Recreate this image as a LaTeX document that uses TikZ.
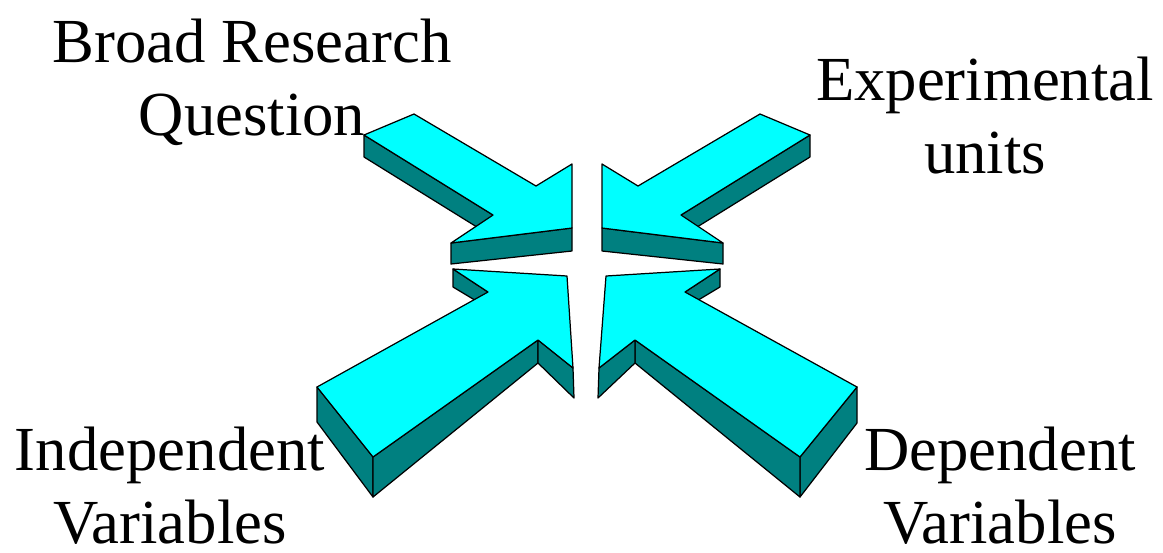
\documentclass[tikz,border=0pt]{standalone}
\usepackage{fontspec}
\setmainfont{Liberation Serif}
\usetikzlibrary{positioning}

\definecolor{arrowtop}{RGB}{0,255,255}
\definecolor{arrowside}{RGB}{0,128,128}

\begin{document}
\begin{tikzpicture}[
  x=0.02cm, y=-0.02cm,
  face/.style={draw, fill=arrowtop, line width=0.7pt, line join=round},
  side/.style={draw, fill=arrowside, line width=0.7pt, line join=round},
  lbl/.style={font=\fontsize{35.7pt}{41.5pt}\selectfont, align=center, anchor=base, inner sep=0pt},
]
\useasboundingbox (0,0) rectangle (1163,552);

% top left arrow
\path (364,135) coordinate (a1) (414,114) coordinate (a2) (536,186) coordinate (a3)
      (572,164) coordinate (a4) (572,228) coordinate (a5) (451,243) coordinate (a6)
      (493,215) coordinate (a7);
\path (364,157) coordinate (a1b) (572,251) coordinate (a5b) (451,264) coordinate (a6b)
      (493,237) coordinate (a7b);
\draw[side] (a1) -- (a7) -- (a7b) -- (a1b) -- cycle;
\draw[side] (a6) -- (a5) -- (a5b) -- (a6b) -- cycle;
\draw[face] (a1) -- (a2) -- (a3) -- (a4) -- (a5) -- (a6) -- (a7) -- cycle;

% top right arrow
\path (810,135) coordinate (b1) (760,114) coordinate (b2) (638,186) coordinate (b3)
      (602,164) coordinate (b4) (602,228) coordinate (b5) (723,243) coordinate (b6)
      (681,215) coordinate (b7);
\path (810,157) coordinate (b1b) (602,251) coordinate (b5b) (723,264) coordinate (b6b)
      (681,237) coordinate (b7b);
\draw[side] (b1) -- (b7) -- (b7b) -- (b1b) -- cycle;
\draw[side] (b6) -- (b5) -- (b5b) -- (b6b) -- cycle;
\draw[face] (b1) -- (b2) -- (b3) -- (b4) -- (b5) -- (b6) -- (b7) -- cycle;

% bottom left arrow
\path (317,387) coordinate (c1) (373,457) coordinate (c2) (538,340) coordinate (c3)
      (573,368) coordinate (c4) (567,276) coordinate (c5) (453,269) coordinate (c6)
      (488,292) coordinate (c7);
\path (317,422) coordinate (c1b) (373,497) coordinate (c2b) (538,363) coordinate (c3b)
      (574,398) coordinate (c4b) (453,287) coordinate (c6b) (488,308) coordinate (c7b);
\draw[side] (c6) -- (c7) -- (c7b) -- (c6b) -- cycle;
\draw[side] (c1) -- (c2) -- (c2b) -- (c1b) -- cycle;
\draw[side] (c2) -- (c3) -- (c3b) -- (c2b) -- cycle;
\draw[side] (c3) -- (c4) -- (c4b) -- (c3b) -- cycle;
\draw[face] (c1) -- (c7) -- (c6) -- (c5) -- (c4) -- (c3) -- (c2) -- cycle;

% bottom right arrow
\path (857,387) coordinate (d1) (800,457) coordinate (d2) (635,340) coordinate (d3)
      (599,368) coordinate (d4) (606,276) coordinate (d5) (720,269) coordinate (d6)
      (685,292) coordinate (d7);
\path (857,423) coordinate (d1b) (800,497) coordinate (d2b) (635,363) coordinate (d3b)
      (598,398) coordinate (d4b) (720,287) coordinate (d6b) (685,308) coordinate (d7b);
\draw[side] (d6) -- (d7) -- (d7b) -- (d6b) -- cycle;
\draw[side] (d1) -- (d2) -- (d2b) -- (d1b) -- cycle;
\draw[side] (d2) -- (d3) -- (d3b) -- (d2b) -- cycle;
\draw[side] (d3) -- (d4) -- (d4b) -- (d3b) -- cycle;
\draw[face] (d1) -- (d7) -- (d6) -- (d5) -- (d4) -- (d3) -- (d2) -- cycle;

% labels (base = last line)
\node[lbl] (question) at (252,135) {Broad Research\\Question};
\node[lbl] (units) at (985,173) {Experimental\\units};
\node[lbl] (indep) at (170,543) {Independent\\Variables};
\node[lbl] (dep) at (1000,543) {Dependent\\Variables};
\end{tikzpicture}
\end{document}
